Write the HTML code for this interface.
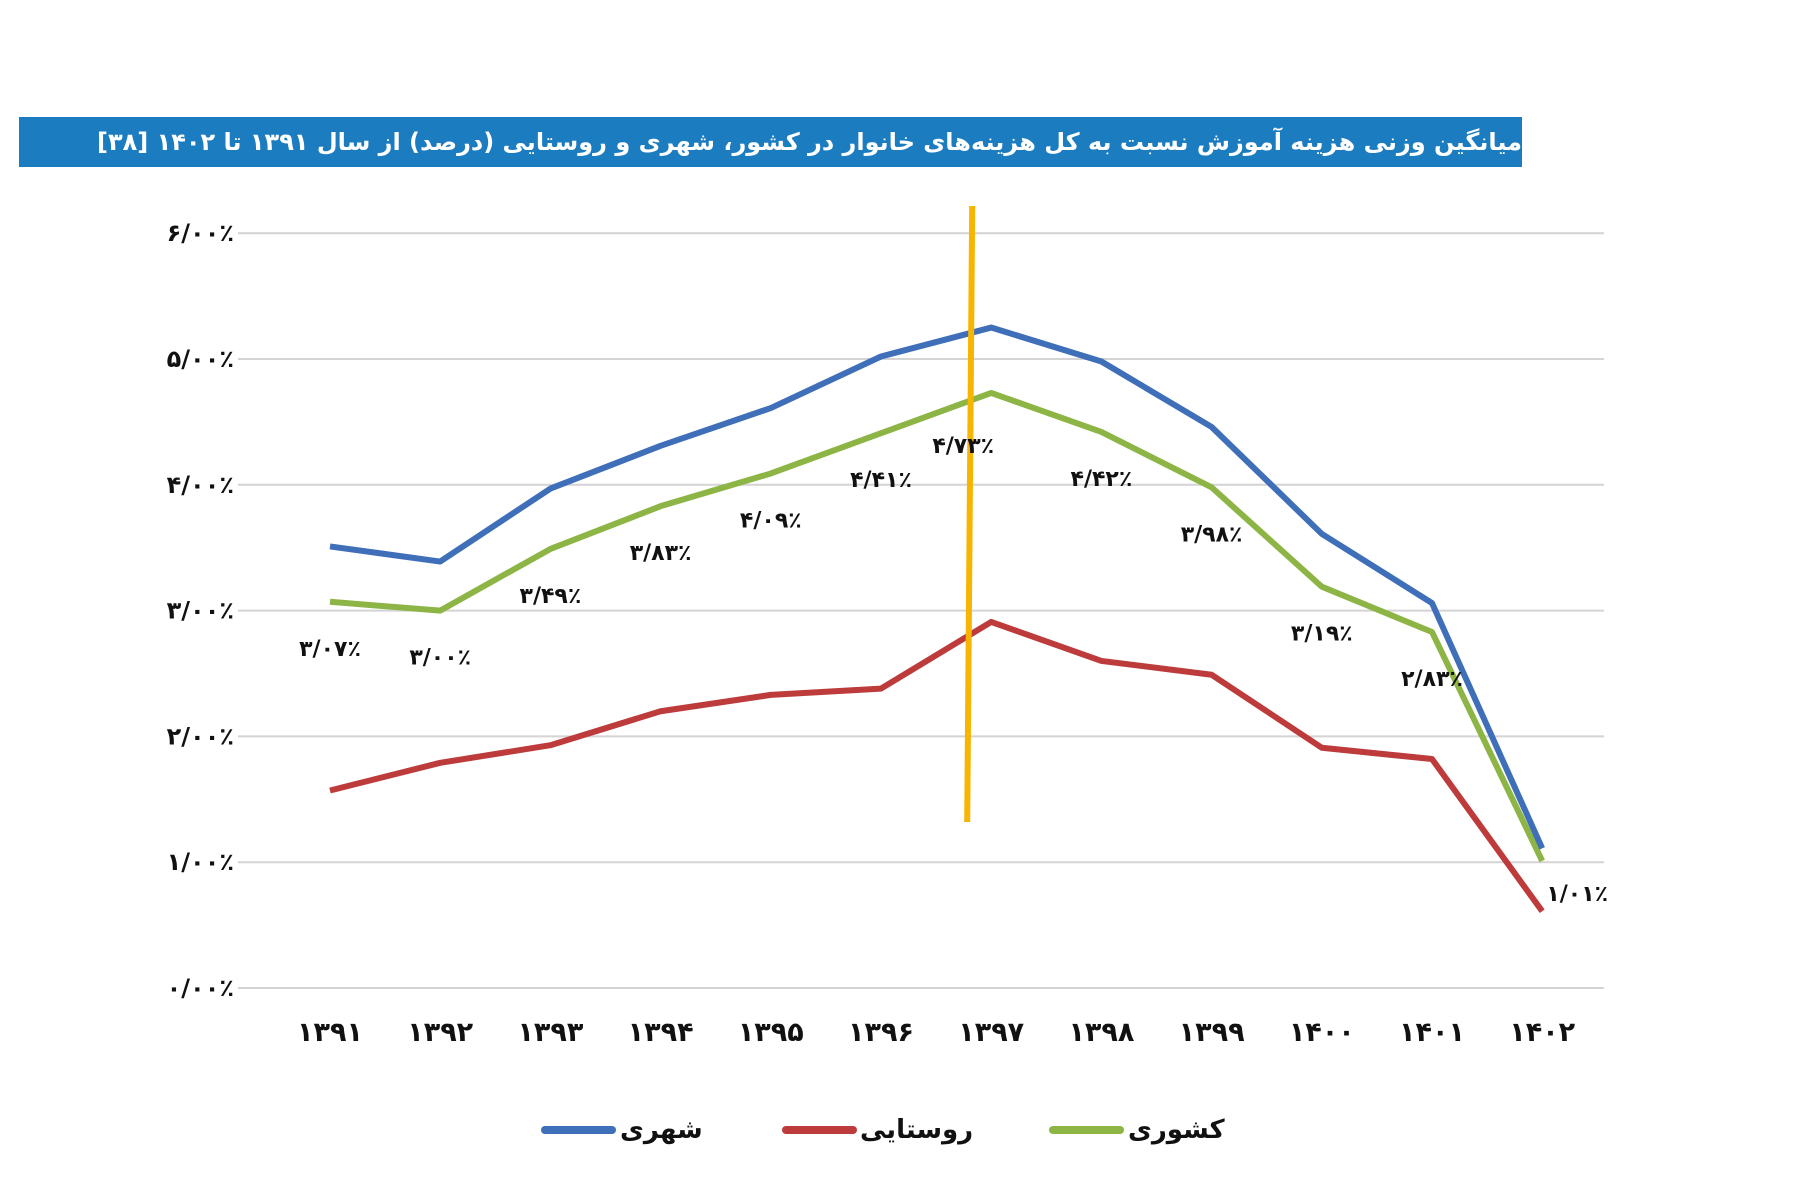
<!DOCTYPE html>
<html lang="fa"><head><meta charset="utf-8">
<style>
html,body{margin:0;padding:0;background:#fff;width:1800px;height:1200px;overflow:hidden}
#title{position:absolute;left:19px;top:117px;width:1503px;max-width:1503px;height:50px;background:#1b7cc0;color:#fff;font:bold 24px "DejaVu Sans",sans-serif;direction:rtl;text-align:right;line-height:50px;box-sizing:border-box;white-space:nowrap;overflow:hidden;letter-spacing:-0.5px}
svg{position:absolute;left:0;top:0}
text{font-family:"DejaVu Sans",sans-serif;font-weight:bold}
</style></head><body>
<div id="title">میانگین وزنی هزینه آموزش نسبت به کل هزینه‌های خانوار در کشور، شهری و روستایی (درصد) از سال ۱۳۹۱ تا ۱۴۰۲ [۳۸]</div>
<svg id="chart" width="1800" height="1200"></svg>
<script>
const categories=['1391','1392','1393','1394','1395','1396','1397','1398','1399','1400','1401','1402'];
const urbanValues=[3.51,3.39,3.97,4.31,4.61,5.02,5.25,4.98,4.46,3.61,3.06,1.11];
const ruralValues=[1.57,1.79,1.93,2.20,2.33,2.38,2.91,2.60,2.49,1.91,1.82,0.61];
const nationalValues=[3.07,3.00,3.49,3.83,4.09,4.41,4.73,4.42,3.98,3.19,2.83,1.01];
const yTicks=[0,1,2,3,4,5,6];
const markerYear='1397';

const NS='http://www.w3.org/2000/svg';
const svg=document.getElementById('chart');
const X0=330,XSTEP=110.2,Y0=988,YUNIT=125.8,GL=238,GR=1604;
const x=i=>X0+i*XSTEP;
const y=v=>Y0-v*YUNIT;
const fa=s=>String(s).replace(/[0-9]/g,d=>'۰۱۲۳۴۵۶۷۸۹'[d]);
function mk(tag,attrs){const e=document.createElementNS(NS,tag);for(const k in attrs)e.setAttribute(k,attrs[k]);svg.appendChild(e);return e;}

yTicks.forEach(t=>{
  const l=mk('line',{x1:GL,x2:GR,y1:y(t),y2:y(t),stroke:'#d4d4d4','stroke-width':2});
  
  
  const tx=mk('text',{x:234,y:y(t)+8,'text-anchor':'end','font-size':24,fill:'#111'});
  tx.textContent=fa(t)+'/'+fa('00')+'٪';
  
  
});
categories.forEach((c,i)=>{
  const tx=mk('text',{x:x(i),y:1041,'text-anchor':'middle','font-size':27,fill:'#111'});
  tx.textContent=fa(c);
  
  
});
function series(vals,color,name){
  const p=mk('polyline',{points:vals.map((v,i)=>x(i)+','+y(v)).join(' '),fill:'none',stroke:color,'stroke-width':6,'stroke-linejoin':'round'});
  
  
}
series(ruralValues,'#bd3b3b','rural-line');
series(nationalValues,'#8db545','national-line');
series(urbanValues,'#3f6fb8','urban-line');

const mi=categories.indexOf(markerYear);
const ml=mk('line',{x1:x(mi)-19,y1:206,x2:x(mi)-24,y2:822,stroke:'#f7b500','stroke-width':6});



nationalValues.forEach((v,i)=>{
  let dx=0,dy=54;
  if(i===6){dx=-28;dy=60;}
  if(i===11){dx=35;dy=40;}
  const tx=mk('text',{x:x(i)+dx,y:y(v)+dy,'text-anchor':'middle','font-size':22,fill:'#111'});
  tx.textContent=fa(v.toFixed(2).replace('.','/'))+'٪';
  
  
});

const legend=[['شهری','#3f6fb8',545,620],['روستایی','#bd3b3b',786,860],['کشوری','#8db545',1053,1128]];
legend.forEach(([t,c,lx,tx0])=>{
  const l=mk('line',{x1:lx,x2:lx+67,y1:1130,y2:1130,stroke:c,'stroke-width':8,'stroke-linecap':'round'});
  
  
  const tx=mk('text',{x:tx0,y:1138,'font-size':26,fill:'#111'});
  tx.textContent=t;
  
  
});
</script>
</body></html>
